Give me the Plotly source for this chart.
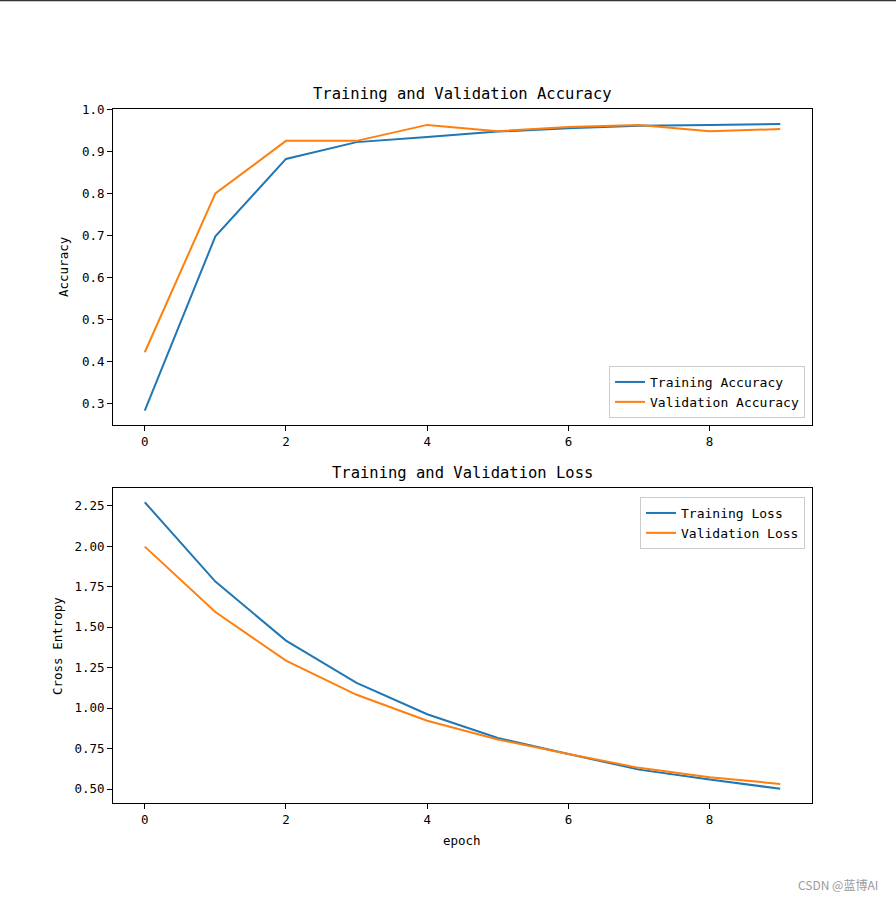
import plotly.graph_objects as go

epochs = list(range(10))
train_acc = [0.283, 0.698, 0.882, 0.922, 0.934, 0.947, 0.955, 0.961, 0.963, 0.965]
val_acc = [0.422, 0.800, 0.925, 0.925, 0.963, 0.948, 0.958, 0.963, 0.948, 0.953]
train_loss = [2.271, 1.781, 1.417, 1.156, 0.962, 0.815, 0.717, 0.620, 0.559, 0.502]
val_loss = [1.997, 1.593, 1.293, 1.082, 0.922, 0.806, 0.717, 0.631, 0.573, 0.532]

acc_ticks = [0.3, 0.4, 0.5, 0.6, 0.7, 0.8, 0.9, 1.0]
loss_ticks = [0.50, 0.75, 1.00, 1.25, 1.50, 1.75, 2.00, 2.25]
x_ticks = [0, 2, 4, 6, 8]

BLUE = "#1f77b4"
ORANGE = "#ff7f0e"
FONT = "DejaVu Sans Mono"
W, H = 896, 900

def px(x):
    return x / W

def py(y):
    return 1 - y / H

fig = go.Figure()
fig.add_trace(go.Scatter(x=epochs, y=train_acc, mode="lines", name="Training Accuracy",
                         line=dict(color=BLUE, width=2), xaxis="x", yaxis="y", legend="legend"))
fig.add_trace(go.Scatter(x=epochs, y=val_acc, mode="lines", name="Validation Accuracy",
                         line=dict(color=ORANGE, width=2), xaxis="x", yaxis="y", legend="legend"))
fig.add_trace(go.Scatter(x=epochs, y=train_loss, mode="lines", name="Training Loss",
                         line=dict(color=BLUE, width=2), xaxis="x2", yaxis="y2", legend="legend2"))
fig.add_trace(go.Scatter(x=epochs, y=val_loss, mode="lines", name="Validation Loss",
                         line=dict(color=ORANGE, width=2), xaxis="x2", yaxis="y2", legend="legend2"))

axis_common = dict(showgrid=False, zeroline=False, showline=True, linecolor="black", linewidth=1,
                   mirror=True, ticks="outside", ticklen=5, tickwidth=1, tickcolor="black",
                   automargin=False,
                   tickfont=dict(family=FONT, size=12.5, color="black"))

xdom = [px(113), px(812)]
fig.update_layout(
    width=W, height=H, margin=dict(l=0, r=0, t=0, b=0, autoexpand=False),
    paper_bgcolor="white", plot_bgcolor="white",
    font=dict(family=FONT, color="black"),
    xaxis=dict(domain=xdom, range=[-0.45, 9.45], tickvals=x_ticks, anchor="y", **axis_common),
    yaxis=dict(domain=[py(425), py(109)], range=[0.249, 1.0008], tickvals=acc_ticks,
               tickformat=".1f", anchor="x", **axis_common),
    xaxis2=dict(domain=xdom, range=[-0.45, 9.45], tickvals=x_ticks, anchor="y2", **axis_common),
    yaxis2=dict(domain=[py(803), py(488)], range=[0.414, 2.359], tickvals=loss_ticks,
                tickformat=".2f", anchor="x2", **axis_common),
    legend=dict(x=px(805), y=py(418), xanchor="right", yanchor="bottom",
                bgcolor="rgba(255,255,255,0.8)", bordercolor="#cccccc", borderwidth=1,
                font=dict(family=FONT, size=13, color="black"), itemwidth=30, tracegroupgap=0),
    legend2=dict(x=px(805), y=py(497), xanchor="right", yanchor="top",
                 bgcolor="rgba(255,255,255,0.8)", bordercolor="#cccccc", borderwidth=1,
                 font=dict(family=FONT, size=13, color="black"), itemwidth=30, tracegroupgap=0),
    showlegend=True,
)

ann = [
    dict(text="Training and Validation Accuracy", x=px(462), y=py(94), size=15.5, angle=0),
    dict(text="Training and Validation Loss", x=px(462), y=py(473), size=15.5, angle=0),
    dict(text="Accuracy", x=px(64), y=py(267), size=12.5, angle=-90),
    dict(text="Cross Entropy", x=px(57), y=py(646), size=12.5, angle=-90),
    dict(text="epoch", x=px(462), y=py(840), size=12.5, angle=0),
]
for a in ann:
    fig.add_annotation(text=a["text"], x=a["x"], y=a["y"], xref="paper", yref="paper",
                       showarrow=False, xanchor="center", yanchor="middle", textangle=a["angle"],
                       font=dict(family=FONT, size=a["size"], color="black"))

fig.add_annotation(text="CSDN @蓝博AI", x=px(880), y=py(884), xref="paper", yref="paper",
                   showarrow=False, xanchor="right", yanchor="middle",
                   font=dict(family="Noto Sans CJK SC", size=12, color="#9a9a9a"))

fig.add_shape(type="line", xref="paper", yref="paper", x0=0, x1=1, y0=py(0.5), y1=py(0.5),
              line=dict(color="#333333", width=1.5))

fig.write_html("out.html")
